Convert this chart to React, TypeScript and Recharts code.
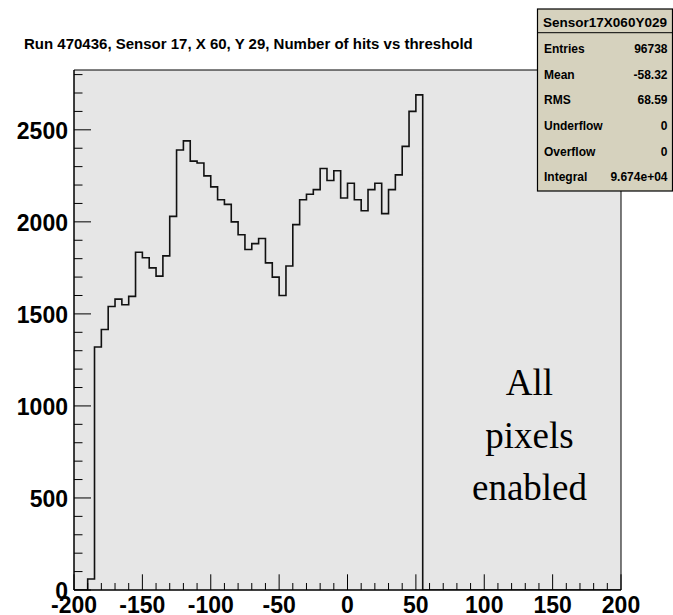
import React from 'react';
import { ComposedChart, Line, XAxis, YAxis, CartesianGrid, ReferenceArea } from 'recharts';

// Histogram bin lower edges (threshold) and contents (number of hits)
const thresholds = [
  -200, -190, -185, -180, -175, -170, -165, -160, -155, -150, -145, -140, -135, -130,
  -125, -120, -115, -110, -105, -100, -95, -90, -85, -80, -75, -70, -65, -60, -55, -50,
  -45, -40, -35, -30, -25, -20, -15, -10, -5, 0, 5, 10, 15, 20, 25, 30, 35, 40, 45, 50,
  55, 200,
];
const hits = [
  0, 60, 1320, 1415, 1540, 1580, 1550, 1595, 1835, 1805, 1750, 1705, 1815, 2030,
  2390, 2440, 2330, 2320, 2250, 2190, 2120, 2095, 2000, 1930, 1850, 1882, 1910, 1777, 1700, 1600,
  1760, 1985, 2120, 2150, 2175, 2290, 2225, 2278, 2130, 2210, 2120, 2060, 2175, 2210, 2045, 2175, 2255, 2410, 2600, 2690,
  0, 0,
];

const xTicks = [
  -200, -190, -180, -170, -160, -150, -140, -130, -120, -110, -100, -90, -80, -70, -60,
  -50, -40, -30, -20, -10, 0, 10, 20, 30, 40, 50, 60, 70, 80, 90, 100, 110, 120, 130,
  140, 150, 160, 170, 180, 190, 200,
];
const yTicks = [
  0, 100, 200, 300, 400, 500, 600, 700, 800, 900, 1000, 1100, 1200, 1300, 1400, 1500,
  1600, 1700, 1800, 1900, 2000, 2100, 2200, 2300, 2400, 2500, 2600, 2700, 2800,
];

const titleText = 'Run 470436, Sensor 17, X 60, Y 29, Number of hits vs threshold';
const statsTitle = 'Sensor17X060Y029';
const statsLabels = ['Entries', 'Mean', 'RMS', 'Underflow', 'Overflow', 'Integral'];
const statsValues = ['96738', '-58.32', '68.59', '0', '0', '9.674e+04'];
const noteLines = ['All', 'pixels', 'enabled'];

const data = thresholds.map((t, i) => ({ x: t, y: hits[i] }));

const SANS = '"Liberation Sans", Arial, Helvetica, sans-serif';
const SERIF = '"Liberation Serif", "Times New Roman", serif';

const YTick = (props: any) => {
  const { x, y, payload } = props;
  const v = payload.value;
  const major = v % 500 === 0;
  return (
    <g>
      <line x1={x} x2={x + (major ? 17 : 8.5)} y1={y} y2={y} stroke="#000" strokeWidth={1} />
      {major && (
        <text x={x - 6} y={y + 9} textAnchor="end" fontSize={23} fontWeight="bold" fontFamily={SANS} fill="#000">
          {v}
        </text>
      )}
    </g>
  );
};

const XTick = (props: any) => {
  const { x, y, payload } = props;
  const v = payload.value;
  const major = v % 50 === 0;
  return (
    <g>
      <line x1={x} x2={x} y1={y} y2={y - (major ? 15.7 : 7)} stroke="#000" strokeWidth={1} />
      {major && (
        <text x={x} y={y + 23} textAnchor="middle" fontSize={23} fontWeight="bold" fontFamily={SANS} fill="#000">
          {v}
        </text>
      )}
    </g>
  );
};

export default function App() {
  return (
    <div style={{ position: 'absolute', left: 0, top: 0, width: 673, height: 615, background: '#fff' }}>
      <ComposedChart
        width={673}
        height={615}
        data={data}
        margin={{ top: 70, right: 52, bottom: 0, left: 0 }}
      >
        <CartesianGrid fill="#e6e6e6" horizontal={false} vertical={false} />
        <XAxis
          dataKey="x"
          type="number"
          domain={[-200, 200]}
          ticks={xTicks}
          interval={0}
          height={25}
          tickSize={0}
          tickMargin={0}
          tickLine={false}
          tick={<XTick />}
          axisLine={{ stroke: '#000' }}
          allowDataOverflow
        />
        <YAxis
          type="number"
          domain={[0, 2825]}
          ticks={yTicks}
          interval={0}
          width={74}
          tickSize={0}
          tickMargin={0}
          tickLine={false}
          tick={<YTick />}
          axisLine={{ stroke: '#000' }}
          allowDataOverflow
        />
        <Line
          dataKey="y"
          type="stepAfter"
          stroke="#111"
          strokeWidth={1.6}
          dot={false}
          activeDot={false}
          isAnimationActive={false}
        />
        <ReferenceArea x1={-200} x2={200} y1={0} y2={2825} fill="none" stroke="#000" strokeWidth={1} />
      </ComposedChart>
      <svg
        width={673}
        height={615}
        style={{ position: 'absolute', left: 0, top: 0, pointerEvents: 'none' }}
      >
        <text x={24} y={48.7} fontSize={15} fontWeight="bold" fontFamily={SANS} fill="#000">
          {titleText}
        </text>
        <rect x={537.5} y={9} width={135} height={182} fill="#d6d2be" stroke="#000" strokeWidth={1.2} />
        <line x1={537.5} x2={673} y1={32.7} y2={32.7} stroke="#000" strokeWidth={1} />
        <text x={605} y={26.5} textAnchor="middle" fontSize={13.5} fontWeight="bold" fontFamily={SANS} fill="#000">
          {statsTitle}
        </text>
        {statsLabels.map((l, i) => (
          <g key={l}>
            <text x={544} y={53.3 + i * 25.55} fontSize={12} fontWeight="bold" fontFamily={SANS} fill="#000">
              {l}
            </text>
            <text x={667.5} y={53.3 + i * 25.55} textAnchor="end" fontSize={12} fontWeight="bold" fontFamily={SANS} fill="#000">
              {statsValues[i]}
            </text>
          </g>
        ))}
        {noteLines.map((l, i) => (
          <text key={l} x={529.5} y={[395, 448, 500][i]} textAnchor="middle" fontSize={37} fontFamily={SERIF} fill="#000">
            {l}
          </text>
        ))}
      </svg>
    </div>
  );
}
